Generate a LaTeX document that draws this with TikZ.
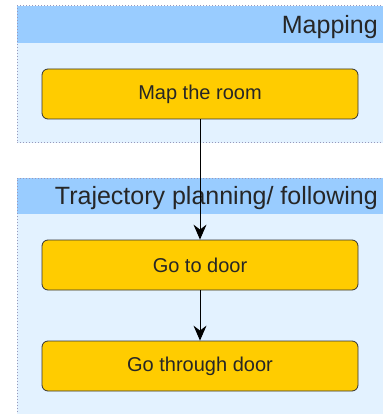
\documentclass[tikz,border=0pt]{standalone}
\usepackage{fontspec}
\setmainfont{Liberation Sans}
\usetikzlibrary{arrows.meta}
\definecolor{bodyblue}{HTML}{E3F2FF}
\definecolor{headblue}{HTML}{99CCFF}
\definecolor{boxyellow}{HTML}{FFCC00}
\definecolor{boxline}{HTML}{333333}
\definecolor{dotline}{HTML}{9999BB}
\tikzset{
  headtext/.style={anchor=east, inner sep=0pt, font=\fontsize{25}{28}\selectfont, text=black!85},
  stepbox/.style={draw=boxline, fill=boxyellow, rounded corners=6pt, line width=0.8pt,
    minimum width=316pt, minimum height=50pt, inner sep=0pt,
    font=\fontsize{20}{24}\selectfont, text=black!85},
  flow/.style={-{Stealth[length=15pt, width=13pt, inset=5pt]}, line width=1pt, black}
}
\begin{document}
\begin{tikzpicture}[x=1pt, y=-1pt]
\useasboundingbox (0,0) rectangle (382,414);
% Mapping container
\fill[bodyblue] (17,6) rectangle (390,143);
\fill[headblue] (17,6) rectangle (390,43);
\draw[dotline, dotted, line width=1pt] (390,6) -- (17,6) -- (17,143) -- (390,143);
\node[headtext] (maphead) at (378,27) {Mapping};
% Trajectory container
\fill[bodyblue] (17,178) rectangle (390,420);
\fill[headblue] (17,178) rectangle (390,214);
\draw[dotline, dotted, line width=1pt] (390,178) -- (17,178) -- (17,420);
\node[headtext] (trajhead) at (378,198) {Trajectory planning/ following};
% Steps
\node[stepbox] (map) at (200,94) {Map the room};
\node[stepbox] (door) at (200,265) {Go to door};
\node[stepbox] (through) at (200,366) {Go through door};
% Connectors
\draw[flow] (map) -- (door);
\draw[flow] (door) -- (through);
\end{tikzpicture}
\end{document}
